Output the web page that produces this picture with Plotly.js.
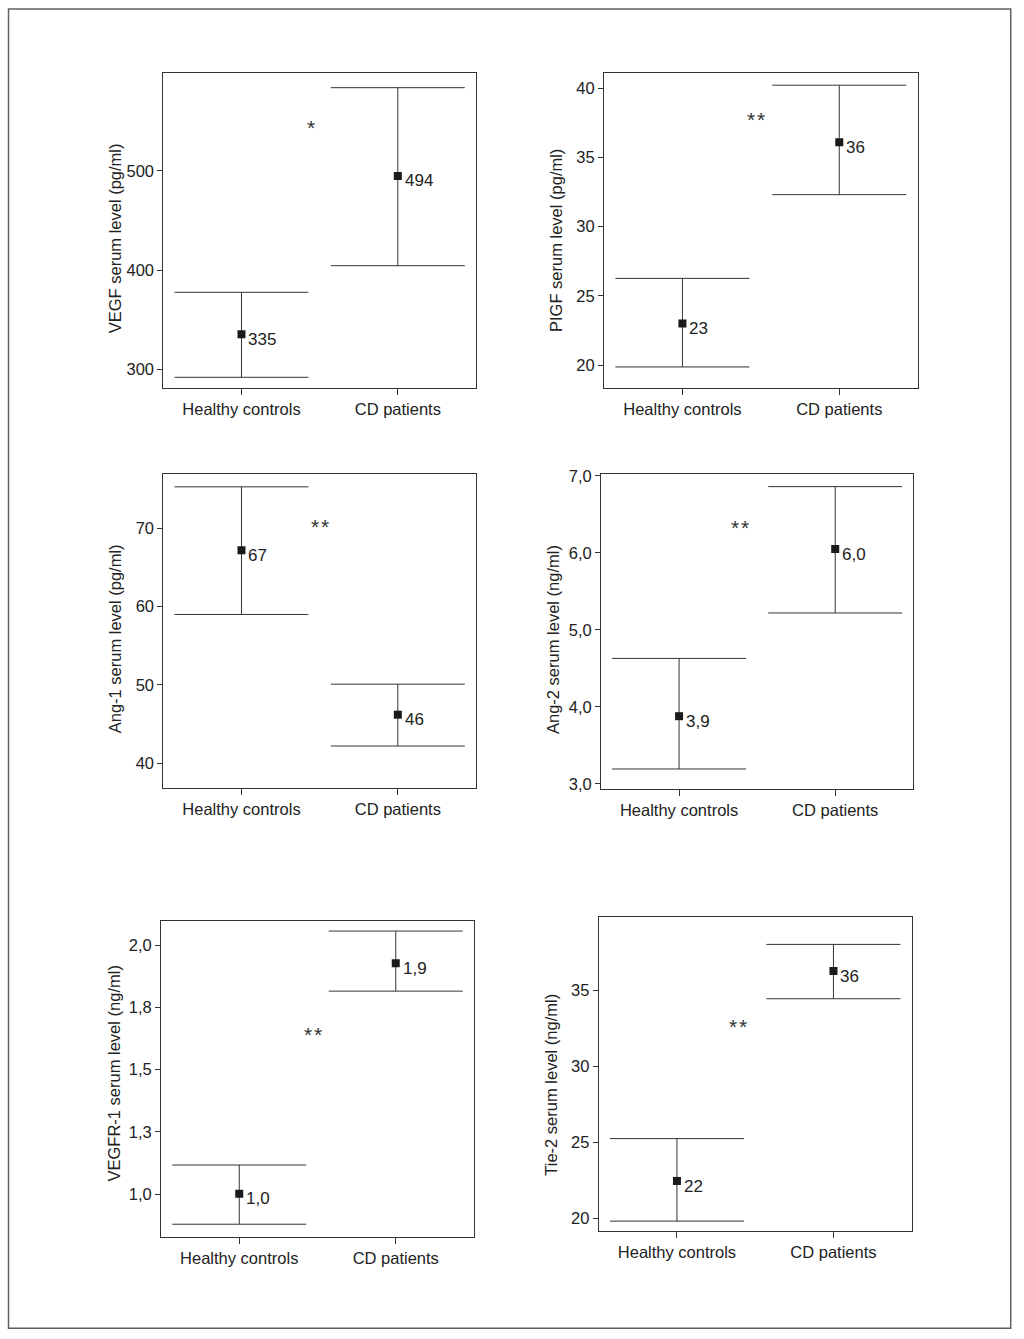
<!DOCTYPE html>
<html>
<head>
<meta charset="utf-8">
<script src="https://cdn.plot.ly/plotly-3.0.1.min.js"></script>
<style>
  html, body { margin: 0; padding: 0; background: #fff; }
  #chart { width: 1024px; height: 1339px; }
</style>
</head>
<body>
<div id="chart"></div>
<script>
// ---------- data ----------
const categories = ["Healthy controls", "CD patients"];

const vegfMean   = [335.4, 495.0];
const vegfUpper  = [377.7, 584.0];
const vegfLower  = [292.0, 404.5];
const vegfLabels = ["335", "494"];

const pigfMean   = [23.0, 36.1];
const pigfUpper  = [26.26, 40.22];
const pigfLower  = [19.86, 32.31];
const pigfLabels = ["23", "36"];

const ang1Mean   = [67.2, 46.2];
const ang1Upper  = [75.3, 50.1];
const ang1Lower  = [59.0, 42.2];
const ang1Labels = ["67", "46"];

const ang2Mean   = [3.88, 6.05];
const ang2Upper  = [4.63, 6.86];
const ang2Lower  = [3.195, 5.22];
const ang2Labels = ["3,9", "6,0"];

const vegfr1Mean   = [1.002, 1.927];
const vegfr1Upper  = [1.1175, 2.056];
const vegfr1Lower  = [0.88, 1.815];
const vegfr1Labels = ["1,0", "1,9"];

const tie2Mean   = [22.45, 36.25];
const tie2Upper  = [25.24, 38.0];
const tie2Lower  = [19.82, 34.43];
const tie2Labels = ["22", "36"];

const yTitles = [
  "VEGF serum level (pg/ml)",
  "PIGF serum level (pg/ml)",
  "Ang-1 serum level (pg/ml)",
  "Ang-2 serum level (ng/ml)",
  "VEGFR-1 serum level (ng/ml)",
  "Tie-2 serum level (ng/ml)"
];
const sigMarks = ["*", "**", "**", "**", "**", "**"];

const vegfr1TickVals = [1.0, 1.25, 1.5, 1.75, 2.0];
const vegfr1TickText = ["1,0", "1,3", "1,5", "1,8", "2,0"];

// ---------- layout helpers ----------
const W = 1024, H = 1339;
const series = [
  [vegfMean, vegfUpper, vegfLower, vegfLabels],
  [pigfMean, pigfUpper, pigfLower, pigfLabels],
  [ang1Mean, ang1Upper, ang1Lower, ang1Labels],
  [ang2Mean, ang2Upper, ang2Lower, ang2Labels],
  [vegfr1Mean, vegfr1Upper, vegfr1Lower, vegfr1Labels],
  [tie2Mean, tie2Upper, tie2Lower, tie2Labels]
];
// pixel boxes [left, right, top, bottom]
const boxes = [
  [163.3, 476.0, 73.3, 387.7],
  [604.0, 917.7, 73.3, 387.7],
  [163.3, 476.0, 474.3, 788.3],
  [601.0, 913.3, 474.3, 789.0],
  [161.0, 474.0, 920.7, 1236.7],
  [598.7, 911.7, 916.7, 1231.0]
];
const titleCenterY = [238, 241, 639, 640, 1073.5, 1085];
const yRanges = [
  [281.5, 598.5],
  [18.36, 41.08],
  [36.8, 76.9],
  [2.935, 7.02],
  [0.83, 2.0975],
  [19.17, 39.82]
];
const yDtick = [100, 5, 10, 1, null, 5];
const sigPos = [
  [0.443, 545.4],
  [0.469, 37.9],
  [0.502, 70.5],
  [0.39, 6.36],
  [0.473, 1.65],
  [0.392, 32.75]
];

const FONT = "Liberation Sans, Arial, Helvetica, sans-serif";
const TXT = "#222";
const LINE = "#333";

const traces = [];
const annotations = [];
const layout = {
  width: W, height: H,
  margin: {l: 0, r: 0, t: 0, b: 0},
  paper_bgcolor: "#fff",
  plot_bgcolor: "#fff",
  showlegend: false,
  separators: ",.",
  font: {family: FONT, color: TXT, size: 16},
  shapes: [{
    type: "rect", xref: "paper", yref: "paper",
    x0: 8.5 / W, x1: 1010.7 / W, y0: 1 - 1328.3 / H, y1: 1 - 9 / H,
    line: {color: "#5f5f5f", width: 1.5}, fillcolor: "rgba(0,0,0,0)"
  }],
  annotations: annotations
};

series.forEach((s, i) => {
  const [mean, upper, lower, labels] = s;
  const n = i + 1;
  const xa = n === 1 ? "x" : "x" + n;
  const ya = n === 1 ? "y" : "y" + n;
  const xKey = n === 1 ? "xaxis" : "xaxis" + n;
  const yKey = n === 1 ? "yaxis" : "yaxis" + n;
  const b = boxes[i];
  const xs = categories.map((c, k) => k);

  traces.push({
    type: "scatter", mode: "markers",
    x: xs, y: mean, xaxis: xa, yaxis: ya,
    marker: {symbol: "square", size: 8, color: "#1a1a1a"},
    error_y: {
      type: "data", symmetric: false,
      array: upper.map((u, k) => u - mean[k]),
      arrayminus: lower.map((l, k) => mean[k] - l),
      color: LINE, thickness: 1, width: 67
    },
    hoverinfo: "skip"
  });

  layout[xKey] = {
    domain: [b[0] / W, b[1] / W],
    anchor: ya,
    range: [-0.5, 1.5],
    tickvals: xs, ticktext: categories,
    ticks: "outside", ticklen: 6, tickcolor: LINE, tickwidth: 1,
    showline: true, linecolor: LINE, linewidth: 1, mirror: true,
    showgrid: false, zeroline: false, fixedrange: true,
    tickfont: {family: FONT, size: 16.5, color: TXT}
  };
  const yax = {
    domain: [1 - b[3] / H, 1 - b[2] / H],
    anchor: xa,
    range: yRanges[i],
    ticks: "outside", ticklen: 5, tickcolor: LINE, tickwidth: 1,
    showline: true, linecolor: LINE, linewidth: 1, mirror: true,
    showgrid: false, zeroline: false, fixedrange: true,
    tickfont: {family: FONT, size: 16.5, color: TXT}
  };
  if (yDtick[i] !== null) {
    yax.tickmode = "linear";
    yax.tick0 = 0;
    yax.dtick = yDtick[i];
    if (i === 3) yax.tickformat = ".1f";
  } else {
    yax.tickvals = vegfr1TickVals;
    yax.ticktext = vegfr1TickText;
  }
  layout[yKey] = yax;

  // y-axis title, placed at a fixed offset from the axis line
  annotations.push({
    xref: "paper", yref: "paper",
    x: (b[0] - 48) / W, y: 1 - titleCenterY[i] / H,
    text: yTitles[i], showarrow: false, textangle: -90,
    xanchor: "center", yanchor: "middle",
    font: {family: FONT, size: 16.5, color: TXT}
  });

  labels.forEach((t, k) => {
    annotations.push({
      xref: xa, yref: ya, x: xs[k], y: mean[k],
      text: t, showarrow: false,
      xanchor: "left", yanchor: "middle",
      xshift: 5, yshift: -5,
      font: {family: FONT, size: 17, color: TXT}
    });
  });
  annotations.push({
    xref: xa, yref: ya, x: sigPos[i][0], y: sigPos[i][1],
    text: sigMarks[i].split("").join("\u200A"), showarrow: false,
    xanchor: "center", yanchor: "middle", yshift: -2,
    font: {family: FONT, size: 21, color: "#333"}
  });
});

Plotly.newPlot("chart", traces, layout, {staticPlot: true, displayModeBar: false});
</script>
</body>
</html>
